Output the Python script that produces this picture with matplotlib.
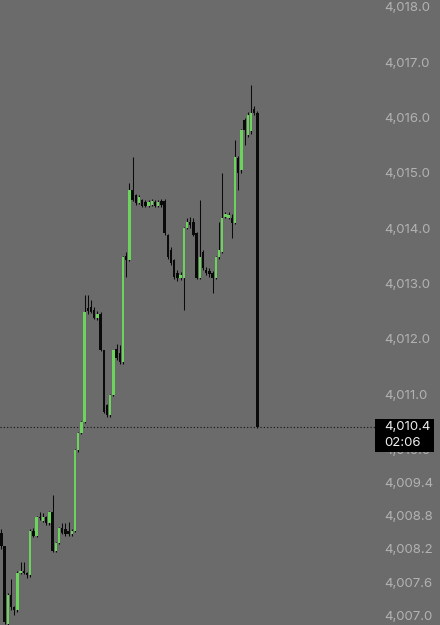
import matplotlib
matplotlib.use("Agg")
import matplotlib.pyplot as plt
from matplotlib.patches import Rectangle
from matplotlib.transforms import blended_transform_factory
import numpy as np

# OHLC values (sequential bars)
opens = [4008.48, 4008.26, 4006.85, 4007.36, 4007.14, 4007.10, 4007.77, 4007.80, 4007.77,
         4007.73, 4008.53, 4008.44, 4008.77, 4008.70, 4008.78, 4008.66, 4008.86, 4008.17, 4008.30,
         4008.57, 4008.55, 4008.53, 4008.46, 4008.53, 4009.98, 4010.30, 4010.50, 4012.55,
         4012.57, 4012.52, 4012.37, 4012.45, 4011.79, 4010.80, 4010.62, 4010.98, 4011.82, 4011.75,
         4011.58, 4013.50, 4013.42, 4014.69, 4014.60, 4014.45, 4014.50, 4014.47, 4014.40, 4014.42,
         4014.48, 4014.40, 4014.49, 4014.49, 4013.88, 4013.61, 4013.42, 4013.19, 4013.10, 4013.10,
         4014.00, 4014.11, 4014.11, 4013.91, 4013.10, 4013.57, 4013.25, 4013.22, 4013.19, 4013.10,
         4013.48, 4013.57, 4014.20, 4014.18, 4014.18, 4014.09, 4015.27, 4015.05, 4015.96, 4015.69,
         4015.75, 4016.15, 4016.09]
highs = [4008.55, 4008.26, 4007.40, 4007.66, 4007.16, 4007.80, 4007.97, 4007.97, 4007.78,
         4008.55, 4008.57, 4008.80, 4008.86, 4008.85, 4008.80, 4008.88, 4009.17, 4008.32, 4008.60,
         4008.66, 4008.66, 4008.68, 4008.56, 4010.00, 4010.32, 4010.52, 4012.79, 4012.79,
         4012.70, 4012.57, 4012.50, 4012.48, 4011.80, 4010.82, 4011.00, 4011.80, 4011.90, 4011.88,
         4013.50, 4013.57, 4014.82, 4015.29, 4014.62, 4014.60, 4014.52, 4014.50, 4014.50, 4014.52,
         4014.51, 4014.51, 4014.52, 4014.52, 4013.90, 4013.65, 4013.45, 4013.25, 4013.20, 4014.02,
         4014.18, 4014.20, 4014.18, 4013.93, 4014.51, 4013.60, 4013.30, 4013.28, 4013.22, 4013.50,
         4014.11, 4015.00, 4014.29, 4014.29, 4014.25, 4015.60, 4015.30, 4015.80, 4016.00, 4016.10,
         4016.59, 4016.20, 4016.12]
lows = [4008.20, 4006.85, 4006.80, 4007.10, 4007.00, 4007.05, 4007.75, 4007.74, 4007.68,
        4007.70, 4008.42, 4008.42, 4008.72, 4008.68, 4008.64, 4008.64, 4008.15, 4008.15, 4008.28,
        4008.46, 4008.44, 4008.44, 4008.44, 4008.50, 4009.96, 4010.28, 4010.48, 4012.45,
        4012.46, 4012.35, 4012.33, 4011.78, 4010.65, 4010.58, 4010.58, 4010.96, 4011.62, 4011.55,
        4011.55, 4013.12, 4013.40, 4014.49, 4014.42, 4014.43, 4014.38, 4014.38, 4014.38, 4014.40,
        4014.38, 4014.38, 4014.38, 4013.88, 4013.45, 4013.33, 4013.08, 4013.05, 4013.07, 4012.52,
        4013.98, 4014.00, 4013.85, 4013.08, 4013.08, 4013.25, 4013.15, 4013.12, 4012.83, 4013.08,
        4013.45, 4013.55, 4014.18, 4014.16, 4013.82, 4014.07, 4014.69, 4015.00, 4015.51, 4015.65,
        4015.70, 4016.05, 4010.38]
closes = [4008.26, 4006.87, 4007.36, 4007.14, 4007.10, 4007.77, 4007.80, 4007.77, 4007.73,
          4008.53, 4008.44, 4008.77, 4008.75, 4008.78, 4008.66, 4008.86, 4008.17, 4008.30, 4008.57,
          4008.48, 4008.46, 4008.46, 4008.53, 4009.98, 4010.30, 4010.50, 4012.48, 4012.50,
          4012.48, 4012.37, 4012.45, 4011.79, 4010.67, 4010.62, 4010.98, 4011.79, 4011.65, 4011.58,
          4013.48, 4013.42, 4014.69, 4014.51, 4014.45, 4014.57, 4014.40, 4014.40, 4014.47, 4014.49,
          4014.40, 4014.48, 4014.41, 4013.91, 4013.48, 4013.37, 4013.12, 4013.10, 4013.16, 4014.00,
          4014.11, 4014.05, 4013.88, 4013.10, 4013.48, 4013.28, 4013.19, 4013.17, 4013.10, 4013.48,
          4013.61, 4014.18, 4014.25, 4014.24, 4014.09, 4015.29, 4015.00, 4015.78, 4015.78, 4016.05,
          4016.09, 4016.09, 4010.40]

tick_values = [4007.0, 4007.6, 4008.2, 4008.8, 4009.4, 4010.0, 4011.0, 4012.0, 4013.0,
               4014.0, 4015.0, 4016.0, 4017.0, 4018.0]
countdown = "02:06"

BG = "#6b6b6b"
UP = "#6cd35c"
DOWN = "#0a0a0a"
LABEL = "#b2b2b2"

fig = plt.figure(figsize=(4.4, 6.25), dpi=100)
fig.patch.set_facecolor(BG)
ax = fig.add_axes([0, 0, 1, 1])
ax.set_facecolor(BG)

n = len(closes)
x = np.arange(n)
spacing_px = 3.2
ax.set_xlim(-0.45, 440 / spacing_px - 0.45)
ax.set_ylim(4006.823, 4018.125)

o = np.array(opens); h = np.array(highs); l = np.array(lows); c = np.array(closes)
up = c >= o
ax.vlines(x, l, h, color=DOWN, linewidth=0.75, zorder=2)
body_bottom = np.minimum(o, c)
body_height = np.maximum(np.abs(c - o), 0.03)
ax.bar(x[up], body_height[up], bottom=body_bottom[up], width=0.72, color=UP,
       linewidth=0, zorder=3)
ax.bar(x[~up], body_height[~up], bottom=body_bottom[~up], width=0.72, color=DOWN,
       linewidth=0, zorder=3)

last = closes[-1]
ax.axhline(last, xmin=0, xmax=0.852, color="#111111", linewidth=0.8,
           linestyle=(0, (1, 2)), zorder=1)

ax.set_xticks([])
ax.yaxis.tick_right()
ax.set_yticks(tick_values)
ax.set_yticklabels([f"{v:,.1f}" for v in tick_values])
ax.tick_params(axis="y", length=0, pad=-40, labelsize=9.5, labelcolor=LABEL)
for lab in ax.get_yticklabels():
    lab.set_fontfamily("Inter")
for s in ax.spines.values():
    s.set_visible(False)

tr = blended_transform_factory(ax.transAxes, ax.transData)
ax.add_patch(Rectangle((0.852, last - 0.44), 0.134, 0.58, transform=tr,
                       facecolor="black", edgecolor="none", zorder=5, clip_on=False))
ax.text(0.873, last, f"{last:,.1f}", transform=tr, va="center", ha="left",
        color="#eeeeee", fontsize=9.5, family="Inter", zorder=6)
ax.text(0.873, last - 0.28, countdown, transform=tr, va="center", ha="left",
        color="#eeeeee", fontsize=9.5, family="Inter", zorder=6)

fig.savefig("out.png", dpi=100, facecolor=BG)
